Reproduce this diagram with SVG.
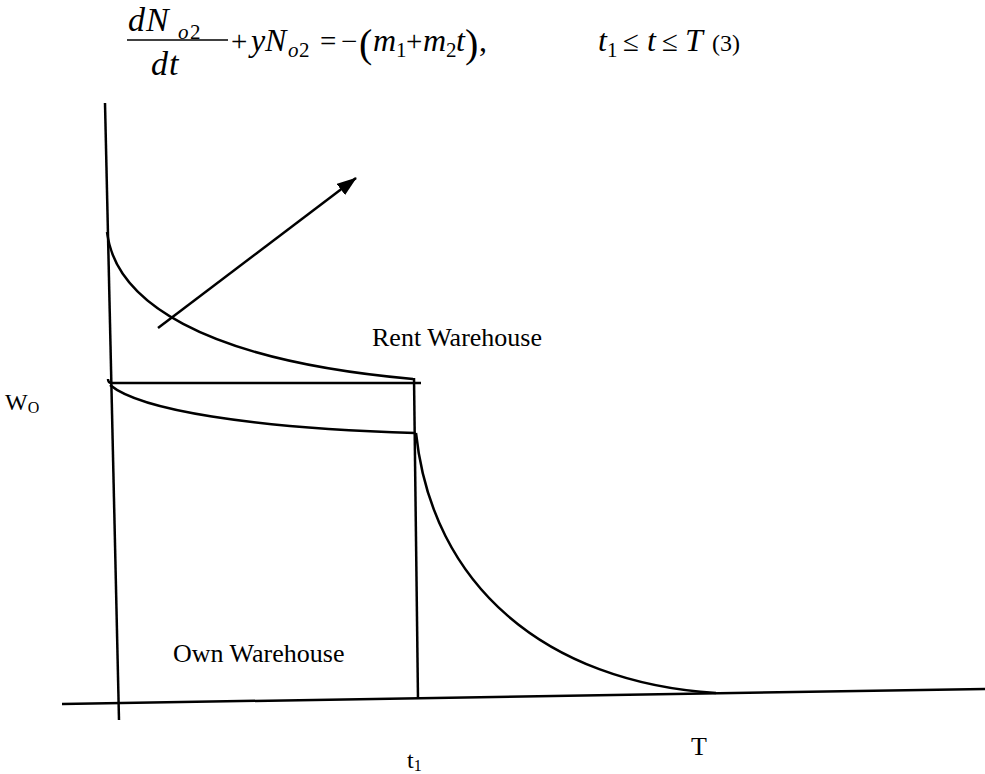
<svg xmlns="http://www.w3.org/2000/svg" width="985" height="774" viewBox="0 0 985 774">
<style>
  .ln{fill:none;stroke:#000;stroke-width:2.5;stroke-linecap:butt}
  .t{font-family:"Liberation Serif","Times New Roman",serif;fill:#000}
  .i{font-style:italic}
  .n{font-style:normal}
  .m{font-size:32px}
  .s{font-size:21px}
  .o{font-size:29px;font-style:normal}
  .p{font-size:40px;font-style:normal}
</style>
<defs>
  <marker id="ah" markerWidth="20" markerHeight="14" refX="19" refY="7" orient="auto" markerUnits="userSpaceOnUse" viewBox="0 0 20 14">
    <path d="M0,0 L20,7 L0,14 Z" fill="#000"/>
  </marker>
</defs>
<rect width="985" height="774" fill="#fff"/>
<g id="equation">
  <text class="t i" font-size="34" y="31"><tspan x="128">d</tspan><tspan x="146">N</tspan><tspan x="178" y="39" class="s">o</tspan><tspan x="190" y="39" class="s n">2</tspan></text>
  <line x1="127" y1="40" x2="228" y2="40" stroke="#000" stroke-width="1.4"/>
  <text class="t i" font-size="34" y="75"><tspan x="151">d</tspan><tspan x="169">t</tspan></text>
  <text class="t i m" y="51"><tspan x="231" class="o">+</tspan><tspan x="251">y</tspan><tspan x="265">N</tspan><tspan x="288" y="57" class="s">o</tspan><tspan x="299" y="57" class="s n">2</tspan><tspan x="320" y="51" class="o">=</tspan><tspan x="341" class="o">−</tspan><tspan x="359" y="57" class="p">(</tspan><tspan x="373" y="51">m</tspan><tspan x="396" y="57" class="s n">1</tspan><tspan x="406" y="51" class="o">+</tspan><tspan x="423">m</tspan><tspan x="446" y="57" class="s n">2</tspan><tspan x="456" y="51">t</tspan><tspan x="465" y="57" class="p">)</tspan><tspan x="479" y="51" class="n">,</tspan></text>
  <text class="t i m" y="51"><tspan x="598">t</tspan><tspan x="607" y="57" class="s n">1</tspan><tspan x="623" y="51" class="o">≤</tspan><tspan x="647">t</tspan><tspan x="662" class="o">≤</tspan><tspan x="685">T</tspan><tspan x="712" font-size="24" class="n">(3)</tspan></text>
</g>
<g id="connectors">
  <line id="y-axis" class="ln" x1="105" y1="103" x2="119" y2="720"/>
  <line id="x-axis" class="ln" x1="62" y1="704" x2="985" y2="689"/>
  <path id="rent-curve" class="ln" d="M107,232 C115,300 200,360 413,379"/>
  <path id="wo-line" class="ln" d="M108,379 Q108,383 112,383 L421,383"/>
  <path id="own-curve" class="ln" d="M110,385 C140,410 250,428 415,433"/>
  <line id="t1-line" class="ln" x1="414" y1="378" x2="418" y2="699"/>
  <path id="decay-curve" class="ln" d="M416,433 C432,585 545,682 716,693"/>
  <line id="arrow" class="ln" x1="158" y1="328" x2="356" y2="178" marker-end="url(#ah)"/>
</g>
<g id="labels" class="t">
  <text x="372" y="346" font-size="26">Rent Warehouse</text>
  <text x="173" y="662" font-size="26">Own Warehouse</text>
  <text x="5" y="410" font-size="24">W<tspan font-size="16" dy="3">O</tspan></text>
  <text x="407" y="768" font-size="24">t<tspan font-size="16" dy="3">1</tspan></text>
  <text x="691" y="755" font-size="26">T</text>
</g>
</svg>
